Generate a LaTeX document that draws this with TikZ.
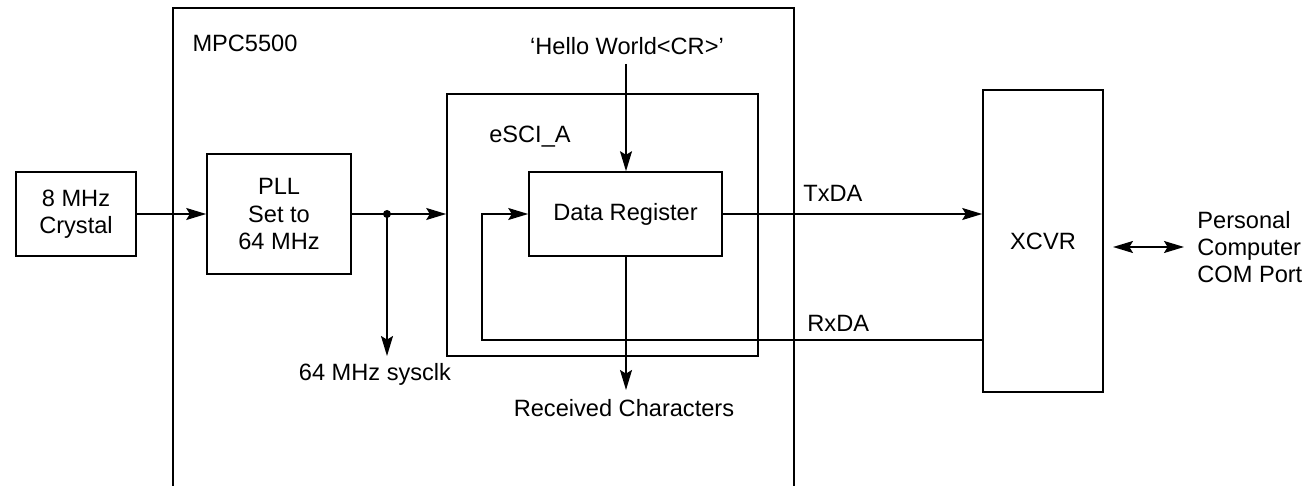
\documentclass[tikz,border=0pt]{standalone}
\usepackage{fontspec}
\setmainfont{Liberation Sans}
\usetikzlibrary{arrows.meta}
\begin{document}
\begin{tikzpicture}[x=0.5pt,y=-0.5pt,
  every node/.style={font=\fontsize{11.8pt}{13.6pt}\selectfont, inner sep=0pt},
  box/.style={draw, line width=0.8pt, rectangle, align=center},
  conn/.style={line width=0.8pt},
  arr/.style={conn, -{Stealth[length=10pt, width=6pt, inset=1.8pt]}},
  darr/.style={conn, {Stealth[length=10pt, width=6pt, inset=1.8pt]}-{Stealth[length=10pt, width=6pt, inset=1.8pt]}},
  lbl/.style={align=center}
]
\useasboundingbox (0,0) rectangle (1315,486);
% outer MPC5500 box (open below the picture edge)
\node[box, minimum width=310.5pt, minimum height=260pt, anchor=north west] (mpc) at (172,7) {};
\node[lbl] (mpclbl) at (245,43) {MPC5500};
\node[box, minimum width=60pt, minimum height=42pt] (crystal) at (76,214) {8 MHz\\Crystal};
\node[box, minimum width=72pt, minimum height=60pt] (pll) at (279,214) {PLL\\Set to\\64 MHz};
\node[box, minimum width=155.5pt, minimum height=131pt] (esci) at (602.5,225) {};
\node[lbl] (escilbl) at (530,137) {eSCI\_A};
\node[box, minimum width=96.5pt, minimum height=42pt] (dreg) at (625.5,214) {Data Register};
\node[box, minimum width=60pt, minimum height=151pt] (xcvr) at (1043,241) {XCVR};
\node[lbl] (hello) at (627,46) {‘Hello World<CR>’};
\node[lbl] (sysclk) at (375,374) {64 MHz sysclk};
\node[lbl] (recv) at (624,408) {Received Characters};
\node[anchor=base west] (txda) at (803,201) {TxDA};
\node[anchor=base west] (rxda) at (807,331) {RxDA};
\node[align=left, anchor=west] (pc) at (1197,247) {Personal\\Computer\\COM Port};

\coordinate (j) at (387,214);
\coordinate (sysend) at (387,356);
\coordinate (hstart) at (626,64);
\coordinate (rend) at (626,390);
\coordinate (rxcorner) at (482,340);
\coordinate (d1) at (1113,247);
\coordinate (d2) at (1184,247);

\draw[arr] (crystal.east) -- (pll.west |- crystal.east);
\draw[conn] (pll.east) -- (j);
\draw[arr] (j) -- (esci.west |- j);
\fill (j) circle (4);
\draw[arr] (j) -- (sysend);
\draw[arr] (hstart) -- (dreg.north -| hstart);
\draw[arr] (dreg.east) -- (xcvr.west |- dreg.east);
\draw[arr] (xcvr.west |- rxcorner) -- (rxcorner) -- (rxcorner |- dreg.west) -- (dreg.west);
\draw[arr] (dreg.south -| rend) -- (rend);
\draw[darr] (d1) -- (d2);
\end{tikzpicture}
\end{document}
